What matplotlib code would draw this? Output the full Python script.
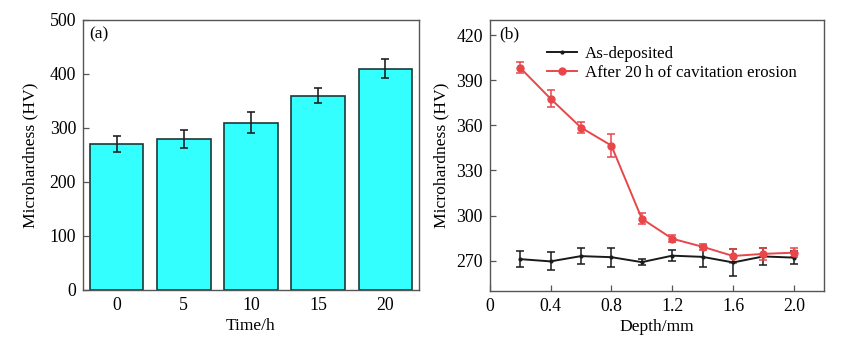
import numpy as np
import matplotlib; matplotlib.use("Agg")
import matplotlib.pyplot as plt
from matplotlib.lines import Line2D

plt.rcParams["font.family"] = ["Liberation Serif", "DejaVu Serif"]

# (a) microhardness vs erosion time
times = ["0", "5", "10", "15", "20"]
hv_time = [270, 280, 310, 360, 410]
hv_time_err = [15, 17, 19, 14, 17]

# (b) microhardness vs depth
depth = [0.2, 0.4, 0.6, 0.8, 1.0, 1.2, 1.4, 1.6, 1.8, 2.0]
hv_asdep = [271, 269.5, 273, 272.3, 269, 273.3, 272.5, 268.8, 272.8, 272]
hv_asdep_err = [5.5, 6, 5.2, 6.3, 2.2, 3.8, 6.4, 9, 5.7, 4.4]
hv_eroded = [398.3, 377.7, 358.5, 346.5, 297.9, 284.6, 279.2, 273.1, 274.5, 275.3]
hv_eroded_err = [3.5, 5.6, 3.7, 7.8, 3.6, 2.2, 2.0, 4.5, 3.8, 3.2]

FRAME = "#555555"
RED = "#e8474a"
TICK_FS = 12.8
LABEL_FS = 12.6

fig = plt.figure(figsize=(8.67, 3.47), dpi=100)
ax1 = fig.add_axes([0.0957, 0.1643, 0.3876, 0.7781])
ax2 = fig.add_axes([0.5648, 0.1622, 0.3860, 0.7802])

for ax in (ax1, ax2):
    for s in ax.spines.values():
        s.set_color(FRAME); s.set_linewidth(1.0)
    ax.tick_params(direction="in", length=4, width=0.9, color=FRAME,
                   labelsize=TICK_FS, top=False, right=False, pad=5)

# ---- (a) bars ----
xpos = np.arange(len(times))
ax1.bar(xpos, hv_time, width=0.8, color="#33ffff", edgecolor="#1a3a3a",
        linewidth=1.2, yerr=hv_time_err,
        error_kw=dict(ecolor="#222222", elinewidth=1.2, capsize=3, capthick=1.2))
ax1.set_xlim(-0.5, 4.5)
ax1.set_ylim(0, 500)
ax1.set_xticks(xpos)
ax1.set_xticklabels(times)
ax1.set_yticks(np.arange(0, 501, 100))
ax1.tick_params(axis="x", length=0)
ax1.set_xlabel("Time/h", fontsize=LABEL_FS, labelpad=3)
ax1.set_ylabel("Microhardness (HV)", fontsize=LABEL_FS, labelpad=8)
ax1.text(0.02, 0.975, "(a)", transform=ax1.transAxes, fontsize=12.5,
         ha="left", va="top")

# ---- (b) depth profiles ----
ax2.errorbar(depth, hv_asdep, yerr=hv_asdep_err, color="#1a1a1a", lw=1.4,
             marker="o", ms=2, capsize=3, elinewidth=1.1, capthick=1.1)
ax2.errorbar(depth, hv_eroded, yerr=hv_eroded_err, color=RED, lw=1.4,
             marker="o", ms=5, capsize=3, elinewidth=1.1, capthick=1.1)
ax2.set_xlim(0, 2.2)
ax2.set_ylim(250, 430)
ax2.set_xticks([0, 0.4, 0.8, 1.2, 1.6, 2.0])
ax2.set_xticklabels(["0", "0.4", "0.8", "1.2", "1.6", "2.0"])
ax2.set_yticks(np.arange(270, 421, 30))
ax2.set_xlabel("Depth/mm", fontsize=LABEL_FS, labelpad=3)
ax2.set_ylabel("Microhardness (HV)", fontsize=LABEL_FS, labelpad=5)
ax2.text(0.03, 0.975, "(b)", transform=ax2.transAxes, fontsize=12.5,
         ha="left", va="top")

# legend handles without the error bar stems
handles = [
    Line2D([], [], color="#1a1a1a", lw=1.4, marker="o", ms=2),
    Line2D([], [], color=RED, lw=1.4, marker="o", ms=5),
]
labels = ["As-deposited", "After 20\u2009h of cavitation erosion"]
ax2.legend(handles, labels, loc="upper left", bbox_to_anchor=(0.171, 0.904),
           frameon=False, fontsize=12.2, handlelength=1.8, handletextpad=0.45,
           labelspacing=0.15, borderaxespad=0.0, borderpad=0.0)

fig.savefig("out.png", dpi=100, facecolor="white")
